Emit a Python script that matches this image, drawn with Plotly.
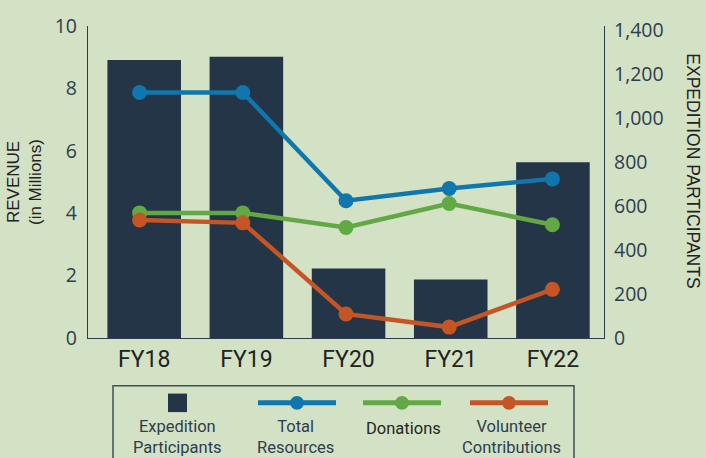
import plotly.graph_objects as go

# ---------------- data ----------------
fiscal_years = ["FY18", "FY19", "FY20", "FY21", "FY22"]
expedition_participants = [1265, 1280, 316, 266, 800]
total_resources = [7.87, 7.87, 4.40, 4.79, 5.10]
donations = [4.01, 4.01, 3.54, 4.31, 3.63]
volunteer_contributions = [3.78, 3.69, 0.77, 0.35, 1.56]

revenue_ticks = [0, 2, 4, 6, 8, 10]
participant_ticks = [0, 200, 400, 600, 800, 1000, 1200, 1400]

# ---------------- style ----------------
BG = "#d3e1c5"
BAR = "#233546"
BLUE = "#0f77ad"
GREEN = "#62a845"
ORANGE = "#c65526"
AXIS = "#2d3e4e"
TEXT = "#2d3e4e"

W, H = 706, 458
L, R, T, B = 88, 604, 18, 338  # plot area in pixels


def px(x):
    return (x - L) / (R - L)


def py(y):
    return (B - y) / (B - T)


fig = go.Figure()

fig.add_trace(go.Bar(
    x=fiscal_years, y=expedition_participants, name="Expedition Participants",
    marker=dict(color=BAR, line=dict(width=0)), width=0.72,
    xaxis="x", yaxis="y", showlegend=False,
))

for name, vals, col in [("Total Resources", total_resources, BLUE),
                        ("Donations", donations, GREEN),
                        ("Volunteer Contributions", volunteer_contributions, ORANGE)]:
    fig.add_trace(go.Scatter(
        x=fiscal_years, y=vals, name=name, mode="lines+markers",
        line=dict(color=col, width=4.5), marker=dict(color=col, size=15),
        xaxis="x2", yaxis="y2", showlegend=False, cliponaxis=False,
    ))

tick_font = dict(family="Open Sans", size=19.5, color=TEXT)

fig.update_layout(
    width=W, height=H,
    margin=dict(l=L, r=W - R, t=T, b=H - B),
    paper_bgcolor=BG, plot_bgcolor=BG,
    bargap=0.28,
    xaxis=dict(
        type="category", range=[-0.55, 4.5], showgrid=False, zeroline=False,
        showline=True, linecolor=AXIS, linewidth=1.2, ticks="",
        tickfont=dict(family="Roboto", size=23, color="#222222"),
        ticklabelstandoff=0,
    ),
    xaxis2=dict(
        type="category", range=[-0.5, 4.5], overlaying="x", visible=False,
        anchor="y2",
    ),
    yaxis=dict(
        side="right", range=[0, 1420], showgrid=False, zeroline=False,
        showline=True, linecolor=AXIS, linewidth=1.2, ticks="",
        tickvals=participant_ticks, tickformat=",d", tickfont=tick_font,
        ticklabelstandoff=5,
    ),
    yaxis2=dict(
        side="left", overlaying="y", anchor="x2", range=[0, 10],
        showgrid=False, zeroline=False,
        showline=True, linecolor=AXIS, linewidth=1.2, ticks="",
        tickvals=revenue_ticks, tickfont=tick_font, ticklabelstandoff=6,
    ),
)

ann = []
title_font = dict(family="Liberation Sans", size=17, color="#222222")
ann.append(dict(text="REVENUE", x=px(13), y=py(178), textangle=-90, font=title_font))
ann.append(dict(text="(in Millions)", x=px(35), y=py(178), textangle=-90, font=title_font))
ann.append(dict(text="EXPEDITION PARTICIPANTS", x=px(693), y=py(166), textangle=90,
                font=dict(family="Liberation Sans", size=17.5, color="#222222")))

# custom legend
shapes = []
shapes.append(dict(type="rect", xref="paper", yref="paper",
                   x0=px(113), x1=px(574), y0=py(387), y1=py(475),
                   line=dict(color="#3e505e", width=1.5), fillcolor="rgba(0,0,0,0)"))
shapes.append(dict(type="rect", xref="paper", yref="paper",
                   x0=px(168), x1=px(187), y0=py(395), y1=py(414),
                   line=dict(width=0), fillcolor=BAR))
leg_lines = [(256, 338, 297, BLUE), (361, 443, 402, GREEN), (468, 550, 509, ORANGE)]
for x0, x1, xm, col in leg_lines:
    shapes.append(dict(type="line", xref="paper", yref="paper",
                       x0=px(x0 + 2), x1=px(x1 - 2), y0=py(404.5), y1=py(404.5),
                       line=dict(color=col, width=5)))
    shapes.append(dict(type="circle", xref="paper", yref="paper",
                       x0=px(xm - 7), x1=px(xm + 7), y0=py(397.5), y1=py(411.5),
                       line=dict(width=0), fillcolor=col))

leg_texts = [("Expedition<br>Participants", 177, 440, TEXT),
             ("Total<br>Resources", 295, 440, TEXT),
             ("Donations", 403, 430.5, "#262626"),
             ("Volunteer<br>Contributions", 511, 440, TEXT)]
for t, x, y, c in leg_texts:
    ann.append(dict(text=t, x=px(x), y=py(y), align="center",
                    font=dict(family="Roboto", size=16.5, color=c)))

for a in ann:
    a.update(xref="paper", yref="paper", showarrow=False,
             xanchor="center", yanchor="middle")

fig.update_layout(annotations=ann, shapes=shapes)

fig.write_html(
    "out.html",
    config={"displayModeBar": False},
    post_script="document.body.style.margin='0px';document.body.style.padding='0px';"
                "document.body.style.overflow='hidden';",
)
